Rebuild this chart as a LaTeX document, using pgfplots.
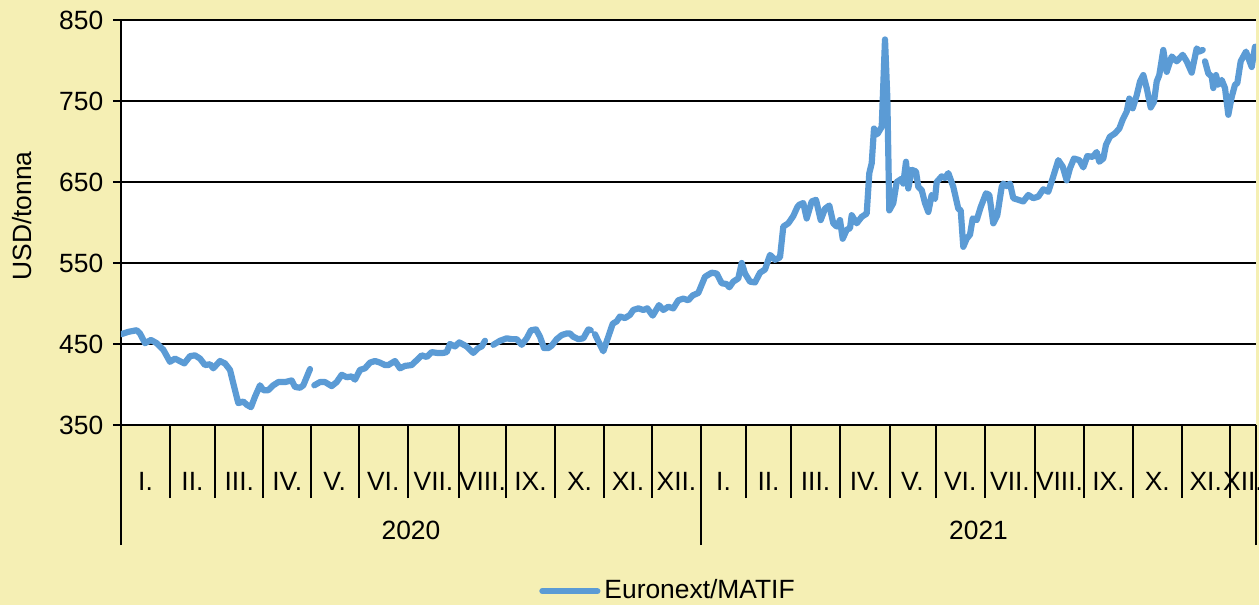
\documentclass[border=0pt]{standalone}
\usepackage{fontspec}
\setmainfont{Liberation Sans}
\usepackage{pgfplots}
\pgfplotsset{compat=1.18}
\definecolor{bg}{RGB}{245,239,180}
\definecolor{ln}{RGB}{91,155,213}
\begin{document}
\fontsize{13.2}{15}\selectfont
\begin{tikzpicture}
\fill[bg] (-60.5pt,-90pt) rectangle (569pt,212.5pt);
\begin{axis}[
  at={(0,0)}, anchor=south west, scale only axis,
  width=567.5pt, height=202.5pt,
  xmin=121, xmax=1256, ymin=350, ymax=850,
  axis background/.style={fill=white},
  axis x line*=bottom, axis y line*=left,
  axis line style={-, black, line width=1.1pt},
  ytick={350,450,...,850},
  ymajorgrids, grid style={black, line width=1.1pt},
  xtick={121,170,215,263.5,311,358.5,408,459,506,555,604,652,701,746,791,840,889.5,935.5,985,1035,1084,1133,1181.5,1230,1256},
  xticklabels={},
  tick align=outside,
  xtick style={black, line width=1pt, /pgfplots/major tick length=36.5pt},
  ytick style={black, line width=1.1pt, /pgfplots/major tick length=4pt},
  yticklabel style={font=\fontsize{13.2}{15}\selectfont},
  /pgf/number format/assume math mode=true,
  unbounded coords=jump,
  legend style={at={(0.4828,-0.41)}, anchor=center, draw=none, fill=none,
    font=\fontsize{13.2}{15}\selectfont},
  legend image code/.code={\draw[#1] (0pt,0pt) -- (27.5pt,0pt);},
]
\addplot[ln, line width=3.1pt, line join=round, line cap=round] coordinates {
(121,462) (128.3,465) (136.7,467) (140,463) (145,451) (151,455) (156.7,451) (163.3,443)
(170,428) (175,432) (184.3,426) (190,435) (195,436) (200,432) (205,424) (210,425)
(213.3,420) (220,429) (225,426) (230,418) (235,393) (238.3,377) (243.3,379) (246.7,375)
(251,372) (255,385) (260,399) (263.3,393) (268.3,393) (273.3,399) (278.3,403) (285,403)
(291.7,405) (295,397) (300,396) (303.3,399) (310,419) (312,nan)
(314.3,399) (320,403) (325,403) (331.7,398) (336.7,403) (341.7,412) (346.7,409) (351.7,410)
(355,406) (360,418) (365,420) (370,427) (375,429) (380,427) (385,424) (388.3,424)
(395,429) (400,420) (405,423) (411.7,424) (416.7,430) (421.7,436) (426.7,434) (431.7,440)
(436.7,439) (443.3,439) (446.7,440) (450,450) (455,447) (459.3,452) (466.7,447) (473.3,439)
(478.3,445) (481.7,447) (485,454) (489,nan)
(493.3,449) (500,454) (506.7,457) (511.7,456) (516.7,456) (521.7,449) (526.7,457) (531,467)
(536,468) (540,459) (544,445) (548.3,445) (551.7,448) (556.7,456) (561.7,461) (566.7,463)
(570,463) (573.3,459) (578.3,456) (583.3,457) (588.3,468) (590.7,467) (593,nan)
(595,462) (599.3,451) (603.3,441) (608.3,459) (612.7,475) (616.7,478) (620,484) (625,482)
(630,486) (633.3,492) (638.3,494) (643.3,492) (647.3,494) (652.7,485) (659,498) (663.3,492)
(668.3,496) (673.3,494) (678.3,504) (683.3,506) (688.3,504) (692.7,510) (698.3,513) (705,533)
(711.7,538) (716.7,537) (721.7,525) (726.7,524) (729.3,520) (733.3,527) (738.3,531) (741.7,550)
(745,537) (750,527) (755,526) (760,538) (765,542) (770,560) (775,554) (780,557)
(783.3,595) (788.3,599) (793.3,608) (797.3,619) (799.3,622) (803.3,624) (806.7,605) (811.7,626)
(816,628) (820.7,603) (825,617) (829.3,621) (833.3,599) (836.7,595) (840,603) (842.7,580)
(846.7,591) (850,593) (851.7,609) (856.7,599) (861.7,607) (866.7,611) (869.3,661) (871.7,673)
(874,716) (877.3,709) (881.7,718) (885,826) (887.3,755) (889.3,615) (893.3,624) (896.7,650)
(901.7,654) (903.3,648) (906,675) (908.3,642) (911.7,665) (916,663) (918.3,644) (921.7,640)
(925,624) (928.3,613) (931.7,634) (935,629) (936.7,650) (941.7,657) (945,655) (948.3,661)
(953.3,644) (958.3,617) (960.7,615) (963.3,570) (966.7,580) (970,585) (972.7,605) (976.7,603)
(980.7,619) (986,636) (989.3,634) (993.3,599) (997.3,609) (1001.7,644) (1003.3,648) (1006.7,645)
(1010,648) (1013.3,630) (1018.3,628) (1023.3,626) (1028.3,634) (1033.3,630) (1038.3,632) (1043.3,641)
(1048.3,638) (1053.3,657) (1058.3,677) (1062.7,669) (1066.7,652) (1070,667) (1074,679) (1079.3,677)
(1083.3,668) (1087.3,682) (1092.7,681) (1096.7,687) (1099.3,675) (1103.3,679) (1106,696) (1110,706)
(1115,710) (1119.3,716) (1122.7,727) (1126.7,737) (1129.3,753) (1132.7,741) (1136.7,757) (1140,774)
(1143.3,782) (1146.7,766) (1150.7,742) (1154,749) (1156.7,774) (1159.3,782) (1163.3,813) (1166.7,786)
(1171.7,805) (1176.7,799) (1182.7,807) (1186.7,799) (1191.7,785) (1196.7,815) (1199.3,811) (1202.7,813)
(1204,nan)
(1205,799) (1208.3,784) (1211.7,780) (1213.3,766) (1216,782) (1218.3,770) (1221.7,776) (1225,766)
(1228.3,733) (1231.7,755) (1235,770) (1237.3,772) (1240.7,799) (1246,811) (1251.7,792) (1255,817)
};
\addlegendentry{Euronext/MATIF}
\end{axis}
% year boundary lines
\begin{axis}[
  at={(0,0)}, anchor=south west, scale only axis,
  width=567.5pt, height=202.5pt,
  xmin=121, xmax=1256, ymin=350, ymax=850,
  hide y axis, axis x line*=bottom, x axis line style={draw=none},
  xtick={121,701,1256}, xticklabels={},
  tick align=outside,
  xtick style={black, line width=1pt, /pgfplots/major tick length=60pt},
]
\end{axis}
% month labels
\begin{axis}[
  at={(0,0)}, anchor=south west, scale only axis,
  width=567.5pt, height=202.5pt,
  xmin=121, xmax=1256, ymin=350, ymax=850,
  hide y axis, axis x line*=bottom, x axis line style={draw=none},
  xtick={145.5,192.5,239.25,287.25,334.75,383.25,433.5,482.5,530.5,579.5,628,676.5,723.5,768.5,815.5,864.75,912.5,960.25,1010,1059.5,1108.5,1157.25,1205.75,1243},
  xticklabels={I.,II.,III.,IV.,V.,VI.,VII.,VIII.,IX.,X.,XI.,XII.,I.,II.,III.,IV.,V.,VI.,VII.,VIII.,IX.,X.,XI.,XII.},
  major tick length=0pt, xtick style={draw=none},
  xticklabel style={anchor=center, yshift=-28pt, font=\fontsize{13.2}{15}\selectfont},
]
\end{axis}
\node at (145pt,-52.5pt) {2020};
\node at (428.75pt,-52.5pt) {2021};
\node[rotate=90] at (-49.5pt,104.5pt) {USD/tonna};
\pgfresetboundingbox
\path[use as bounding box] (-60.5pt,-90pt) rectangle (569pt,212.5pt);
\end{tikzpicture}
\end{document}
